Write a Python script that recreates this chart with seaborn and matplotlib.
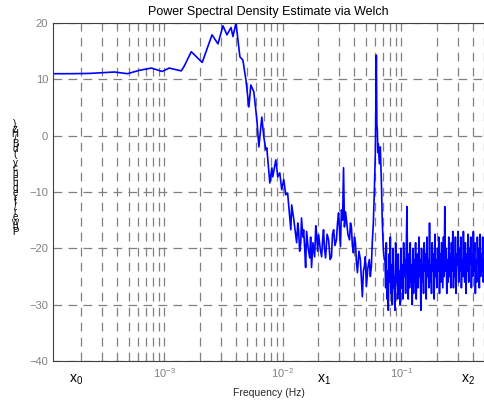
import numpy as np
import pandas as pd
import matplotlib
matplotlib.use('Agg')
import matplotlib.pyplot as plt
import matplotlib.transforms as mtransforms
from matplotlib.ticker import LogLocator
import seaborn as sns

# smooth / mid part of the Welch estimate (freq in Hz, power in dB/Hz)
freq = [1.15e-4, 1.59e-4, 2.34e-4, 3.80e-4, 4.89e-4, 6.16e-4, 7.78e-4, 9.6e-4,
        1.10e-3, 1.39e-3, 1.47e-3, 1.69e-3, 2.09e-3, 2.53e-3, 2.84e-3, 3.13e-3,
        3.38e-3, 3.66e-3, 3.80e-3, 4.03e-3, 4.35e-3, 4.61e-3, 4.89e-3, 5.18e-3,
        5.38e-3, 5.70e-3, 6.05e-3, 6.29e-3, 6.66e-3, 6.92e-3, 7.20e-3, 7.34e-3,
        7.78e-3, 8.09e-3, 8.24e-3, 8.74e-3, 9.08e-3, 9.44e-3, 9.81e-3, 1.02e-2,
        1.06e-2, 1.10e-2, 1.17e-2, 1.19e-2, 1.24e-2, 1.31e-2, 1.34e-2, 1.36e-2,
        1.39e-2, 1.42e-2, 1.44e-2, 1.48e-2, 1.50e-2, 1.53e-2, 1.56e-2, 1.59e-2,
        1.64e-2, 1.69e-2, 1.72e-2, 1.75e-2, 1.80e-2, 1.86e-2, 1.90e-2, 1.93e-2,
        1.97e-2, 2.01e-2, 2.07e-2, 2.13e-2, 2.17e-2, 2.21e-2, 2.25e-2, 2.30e-2,
        2.37e-2, 2.44e-2, 2.51e-2, 2.58e-2, 2.63e-2, 2.69e-2, 2.76e-2, 2.84e-2,
        2.90e-2, 2.96e-2, 3.02e-2, 3.07e-2, 3.13e-2, 3.20e-2, 3.26e-2, 3.32e-2,
        3.38e-2, 3.45e-2, 3.55e-2, 3.66e-2, 3.73e-2, 3.80e-2, 3.87e-2, 3.95e-2,
        4.03e-2, 4.11e-2, 4.19e-2, 4.27e-2, 4.40e-2, 4.52e-2, 4.61e-2, 4.70e-2,
        4.80e-2, 4.89e-2, 4.98e-2, 5.08e-2, 5.23e-2, 5.38e-2, 5.49e-2, 5.60e-2,
        5.70e-2, 5.82e-2, 5.93e-2, 6.05e-2, 6.17e-2, 6.23e-2, 6.29e-2, 6.35e-2,
        6.41e-2, 6.54e-2, 6.66e-2, 6.80e-2, 6.92e-2, 7.06e-2, 7.20e-2]
psd = [11.0, 11.0, 11.05, 11.3, 11.0, 11.6, 12.0, 11.4,
       12.0, 11.5, 12.3, 14.9, 13.0, 17.9, 16.3, 19.5,
       17.9, 19.2, 17.6, 20.0, 14.0, 13.4, 9.9, 5.1,
       9.0, 7.8, 2.8, -2.0, 3.3, -0.2, -2.5, -2.2,
       -8.4, -5.7, -7.3, -4.3, -7.3, -6.6, -9.6, -7.8,
       -10.5, -10.2, -16.7, -12.3, -14.9, -19.0, -15.5, -16.7,
       -20.5, -19.0, -14.6, -18.0, -16.7, -19.7, -23.4, -17.0,
       -20.0, -21.7, -18.0, -23.4, -19.0, -21.5, -16.0, -17.2,
       -20.5, -17.6, -20.0, -21.5, -18.5, -16.7, -20.0, -21.7,
       -17.5, -18.5, -22.0, -21.5, -17.5, -16.7, -19.5, -18.5,
       -15.5, -13.7, -17.0, -19.7, -13.2, -15.0, -5.7, -16.2,
       -13.5, -14.9, -17.5, -18.5, -15.5, -16.2, -19.5, -20.8,
       -18.0, -19.0, -22.5, -24.3, -20.5, -22.0, -25.5, -28.6,
       -24.0, -23.2, -21.5, -26.8, -23.5, -22.0, -25.0, -23.2,
       -19.0, -15.5, -10.0, -3.0, 14.3, 2.0, 1.0, -3.0,
       -1.5, -5.0, -2.0, -8.0, -15.0, -20.0, -22.0]

# noisy high-frequency tail (0.073 .. 0.5 Hz)
noise_psd = [-22, -27, -19, -29, -24, -31, -21, -26, -18, -28,
             -23, -30, -20, -27, -25, -31, -19, -26, -22, -29,
             -21, -28, -24, -30, -20, -27, -23, -29, -19, -25,
             -22, -28, -20, -12.6, -24, -29, -21, -27, -19, -26,
             -23, -30, -20, -28, -22, -26, -19, -29, -24, -21,
             -27, -18, -25, -22, -31, -20, -26, -23, -28, -19,
             -24, -21, -29, -18, -25, -22, -27, -15.5, -26, -23,
             -28, -19, -24, -21, -29, -17.5, -25, -22, -27, -20,
             -24, -18, -28, -21, -26, -19, -23, -27, -18, -25,
             -12.6, -24, -20, -28, -22, -26, -18, -25, -21, -27,
             -19, -24, -17, -27, -22, -25, -18, -28, -21, -23,
             -17, -26, -20, -24, -18, -27, -22, -25, -17, -23,
             -26, -19, -28, -21, -24, -17.5, -26, -20, -23, -18,
             -27, -21, -25, -17, -24, -19, -28, -22, -26, -18,
             -23, -20, -27, -17.5, -25, -21, -24, -18, -26, -22]
noise_freq = np.geomspace(0.073, 0.5, len(noise_psd))

df = pd.DataFrame({'f': np.concatenate([freq, noise_freq]),
                   'p': np.concatenate([psd, noise_psd])})

sns.set_style('white')
plt.rcParams['font.family'] = ['Liberation Sans', 'DejaVu Sans']
plt.rcParams['mathtext.fontset'] = 'custom'
plt.rcParams['mathtext.rm'] = 'Liberation Sans'
plt.rcParams['mathtext.it'] = 'Liberation Sans'

fig = plt.figure(figsize=(4.84, 4.03), dpi=100)
ax = fig.add_axes([53 / 484, 42 / 403, 431 / 484, 338 / 403])
ax.set_xscale('log')

sns.lineplot(data=df, x='f', y='p', sort=False, estimator=None,
             color='#0000ff', lw=1.2, ax=ax)

ax.set_xlim(1.15e-4, 0.5)
ax.set_ylim(-40, 20)
ax.set_yticks([-40, -30, -20, -10, 0, 10, 20])
ax.xaxis.set_major_locator(LogLocator(base=10))
ax.xaxis.set_minor_locator(LogLocator(base=10, subs=np.arange(2, 10)))

grid_kw = dict(color='#808080', lw=0.9, linestyle=(0, (7, 5)))
ax.grid(True, which='both', axis='x', **grid_kw)
ax.grid(True, which='major', axis='y', **grid_kw)
ax.set_axisbelow(True)

for side in ['left', 'bottom', 'top']:
    ax.spines[side].set_color('#404040')
    ax.spines[side].set_linewidth(0.8)
ax.spines['right'].set_visible(False)

ax.tick_params(axis='both', which='both', direction='in', colors='#404040',
               labelcolor='#808080', labelsize=8)
ax.tick_params(axis='x', which='major', length=5, top=False)
ax.tick_params(axis='x', which='minor', length=4, top=False)
ax.tick_params(axis='y', length=4)

ax.set_title('Power Spectral Density Estimate via Welch', fontsize=9, color='black')
ax.set_xlabel('Frequency (Hz)', fontsize=7.5, labelpad=6)
ax.set_ylabel('')

# stacked (upside-down order) y label as in the reference
ylab = 'Power/frequency (dB/Hz)'
fig.text(15 / 484, 1 - 178 / 403, '\n'.join(ylab[::-1]), fontsize=7,
         linespacing=0.36, ha='center', va='center', color='black')

trans = mtransforms.blended_transform_factory(ax.transData, ax.transAxes)
for xv, lab in [(1.79e-4, r'x$_0$'), (2.25e-2, r'x$_1$'), (0.366, r'x$_2$')]:
    ax.text(xv, -0.055, lab, transform=trans, fontsize=10, ha='center',
            va='center', color='black', clip_on=False)

plt.savefig('out.png', dpi=100)
